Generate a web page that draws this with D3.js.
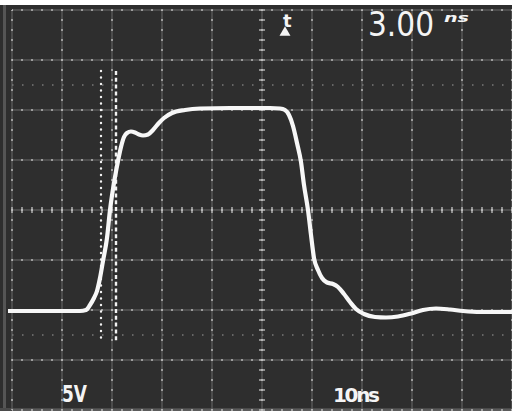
<!DOCTYPE html>
<html>
<head>
<meta charset="utf-8">
<script src="https://cdn.jsdelivr.net/npm/d3@7"></script>
<style>
  html, body { margin: 0; padding: 0; background: #ffffff; }
  #scope { width: 512px; height: 411px; }
</style>
</head>
<body>
<div id="scope"></div>
<script>
// trace, in graticule divisions (x: 0..10, y: -4..4, centre = 0)
const time_div = [-0.08, 0.96, 1.36, 1.48, 1.56, 1.64, 1.70, 1.76, 1.82, 1.90, 1.96, 2.06, 2.12, 2.18, 2.24, 2.30,
    2.38, 2.46, 2.54, 2.62, 2.72, 2.82, 2.92, 3.04, 3.20, 3.46, 3.76, 4.36, 5.16, 5.36, 5.46, 5.54, 5.62, 5.70,
    5.78, 5.84, 5.92, 5.98, 6.04, 6.12, 6.20, 6.30, 6.42, 6.52, 6.64, 6.76, 6.88, 7.04, 7.26, 7.48, 7.72, 7.98,
    8.22, 8.48, 8.76, 9.02, 9.36, 10.0];
const volt_div = [-2.02, -2.02, -2.02, -2.00, -1.90, -1.76, -1.62, -1.36, -1.02, -0.56, 0.00, 0.66, 0.98, 1.26, 1.46, 1.54,
    1.57, 1.55, 1.51, 1.49, 1.51, 1.60, 1.72, 1.84, 1.94, 2.00, 2.03, 2.04, 2.04, 2.03, 2.00, 1.90, 1.68, 1.34,
    0.96, 0.50, 0.00, -0.50, -0.96, -1.20, -1.36, -1.45, -1.48, -1.54, -1.68, -1.84, -1.98, -2.08, -2.14, -2.15, -2.13, -2.07,
    -2.00, -1.97, -1.99, -2.02, -2.04, -2.04];

// cursors (divisions) and graticule
const cursor_x = [1.78, 2.08];
const cursor_y = [-2.66, 2.78];
const x_div = d3.range(0, 11);
const y_div = d3.range(-4, 5);
const ref_levels = [-2.5, 2.5];

// readouts
const readout_time = "3.00";
const readout_unit = "ns";
const volts_label = "5V";
const time_label = "10ns";

class Scope {

    constructor(div_id){
        this.svg = d3.select(div_id).append("svg").attr("width", 512).attr("height", 411);
        this.x = d3.scaleLinear().domain([0, 10]).range([12, 512]);
        this.y = d3.scaleLinear().domain([-4, 4]).range([410, 10]);
    }

    draw(){
        this.background();
        this.build_grid();
        this.draw_cursors();
        this.draw_trace();
        this.draw_labels();
    }

    background(){
        this.svg.append("rect").attr("width", 512).attr("height", 411).attr("fill", "#2e2e2e");
        this.svg.append("rect").attr("width", 512).attr("height", 5).attr("fill", "#ffffff");
        this.svg.append("rect").attr("x", 3).attr("y", 5).attr("width", 3).attr("height", 406).attr("fill", "#555555");
        this.svg.append("rect").attr("x", 0).attr("y", 408).attr("width", 512).attr("height", 3).attr("fill", "#4a4a4a");
    }

    build_grid(){
        const g = this.svg.append("g").attr("class", "grid");
        const [x0, x1] = this.x.range();
        const [y0, y1] = this.y.range();

        // faint lines
        g.selectAll("line.v").data(x_div).enter().append("line")
            .attr("x1", d => this.x(d)).attr("x2", d => this.x(d))
            .attr("y1", y1).attr("y2", y0)
            .attr("stroke", "#6a6a6a").attr("stroke-width", 1);
        g.selectAll("line.h").data(y_div).enter().append("line")
            .attr("x1", x0).attr("x2", x1)
            .attr("y1", d => this.y(d)).attr("y2", d => this.y(d))
            .attr("stroke", "#6a6a6a").attr("stroke-width", 1);

        // brighter dots every 0.2 div
        g.selectAll("line.vd").data(x_div).enter().append("line")
            .attr("x1", d => this.x(d)).attr("x2", d => this.x(d))
            .attr("y1", y1).attr("y2", y0)
            .attr("stroke", "#b8b8b8").attr("stroke-width", 1.5)
            .attr("stroke-dasharray", "2,8").attr("stroke-dashoffset", 1);
        g.selectAll("line.hd").data(y_div).enter().append("line")
            .attr("x1", x0).attr("x2", x1)
            .attr("y1", d => this.y(d)).attr("y2", d => this.y(d))
            .attr("stroke", "#b8b8b8").attr("stroke-width", 1.5)
            .attr("stroke-dasharray", "2,8").attr("stroke-dashoffset", 1);

        // 0% / 100% dotted levels
        g.selectAll("line.ref").data(ref_levels).enter().append("line")
            .attr("x1", x0).attr("x2", x1)
            .attr("y1", d => this.y(d)).attr("y2", d => this.y(d))
            .attr("stroke", "#7a7a7a").attr("stroke-width", 1.3)
            .attr("stroke-dasharray", "1.5,8.5");

        // centre line ticks
        const ticks_x = d3.range(0, 10.01, 0.2);
        const ticks_y = d3.range(-4, 4.01, 0.2);
        g.selectAll("line.tx").data(ticks_x).enter().append("line")
            .attr("x1", d => this.x(d)).attr("x2", d => this.x(d))
            .attr("y1", this.y(0) - 3).attr("y2", this.y(0) + 3)
            .attr("stroke", "#c4c4c4").attr("stroke-width", 1.3);
        g.selectAll("line.ty").data(ticks_y).enter().append("line")
            .attr("x1", this.x(5) - 3).attr("x2", this.x(5) + 3)
            .attr("y1", d => this.y(d)).attr("y2", d => this.y(d))
            .attr("stroke", "#c4c4c4").attr("stroke-width", 1.3);
    }

    draw_cursors(){
        const g = this.svg.append("g").attr("class", "cursors");
        g.append("line")
            .attr("x1", this.x(cursor_x[0])).attr("x2", this.x(cursor_x[0]))
            .attr("y1", this.y(cursor_y[1])).attr("y2", this.y(cursor_y[0]))
            .attr("stroke", "#f2f2f2").attr("stroke-width", 2.4)
            .attr("stroke-linecap", "round").attr("stroke-dasharray", "0,6.5");
        g.append("line")
            .attr("x1", this.x(cursor_x[1])).attr("x2", this.x(cursor_x[1]))
            .attr("y1", this.y(cursor_y[1])).attr("y2", this.y(cursor_y[0]))
            .attr("stroke", "#f2f2f2").attr("stroke-width", 2.4)
            .attr("stroke-dasharray", "4,2.8");
    }

    draw_trace(){
        const data = time_div.map((t, i) => ({x: t, y: volt_div[i]}));
        const line = d3.line()
            .x(d => this.x(d.x))
            .y(d => this.y(d.y))
            .curve(d3.curveMonotoneX);
        this.svg.append("path")
            .datum(data)
            .attr("d", line)
            .attr("fill", "none")
            .attr("stroke", "#f7f7f7")
            .attr("stroke-width", 4.2)
            .attr("stroke-linejoin", "round");
    }

    draw_labels(){
        const g = this.svg.append("g").attr("class", "labels").attr("fill", "#f4f4f4");
        g.append("text").attr("x", 368).attr("y", 36)
            .attr("font-family", "DejaVu Sans").attr("font-size", 33)
            .attr("textLength", 66).attr("lengthAdjust", "spacingAndGlyphs")
            .text(readout_time);
        g.append("text").attr("x", 444).attr("y", 22)
            .attr("font-family", "DejaVu Sans").attr("font-size", 13)
            .attr("font-weight", "bold").attr("font-style", "italic")
            .attr("textLength", 25).attr("lengthAdjust", "spacingAndGlyphs")
            .text(readout_unit);
        // delta-t symbol: letter t over a small filled triangle
        g.append("text").attr("x", 283).attr("y", 27)
            .attr("font-family", "DejaVu Sans").attr("font-size", 18).attr("font-weight", "bold")
            .text("t");
        g.append("path")
            .attr("transform", "translate(285,32.5)")
            .attr("d", d3.symbol(d3.symbolTriangle, 52)());
        g.append("text").attr("x", 62).attr("y", 402)
            .attr("font-family", "DejaVu Sans").attr("font-size", 23).attr("font-weight", "bold")
            .attr("textLength", 25).attr("lengthAdjust", "spacingAndGlyphs")
            .text(volts_label);
        g.append("text").attr("x", 333).attr("y", 402)
            .attr("font-family", "DejaVu Sans").attr("font-size", 20).attr("font-weight", "bold")
            .attr("textLength", 47).attr("lengthAdjust", "spacing")
            .text(time_label);
    }
}

const scope = new Scope("#scope");
scope.draw();
</script>
</body>
</html>
